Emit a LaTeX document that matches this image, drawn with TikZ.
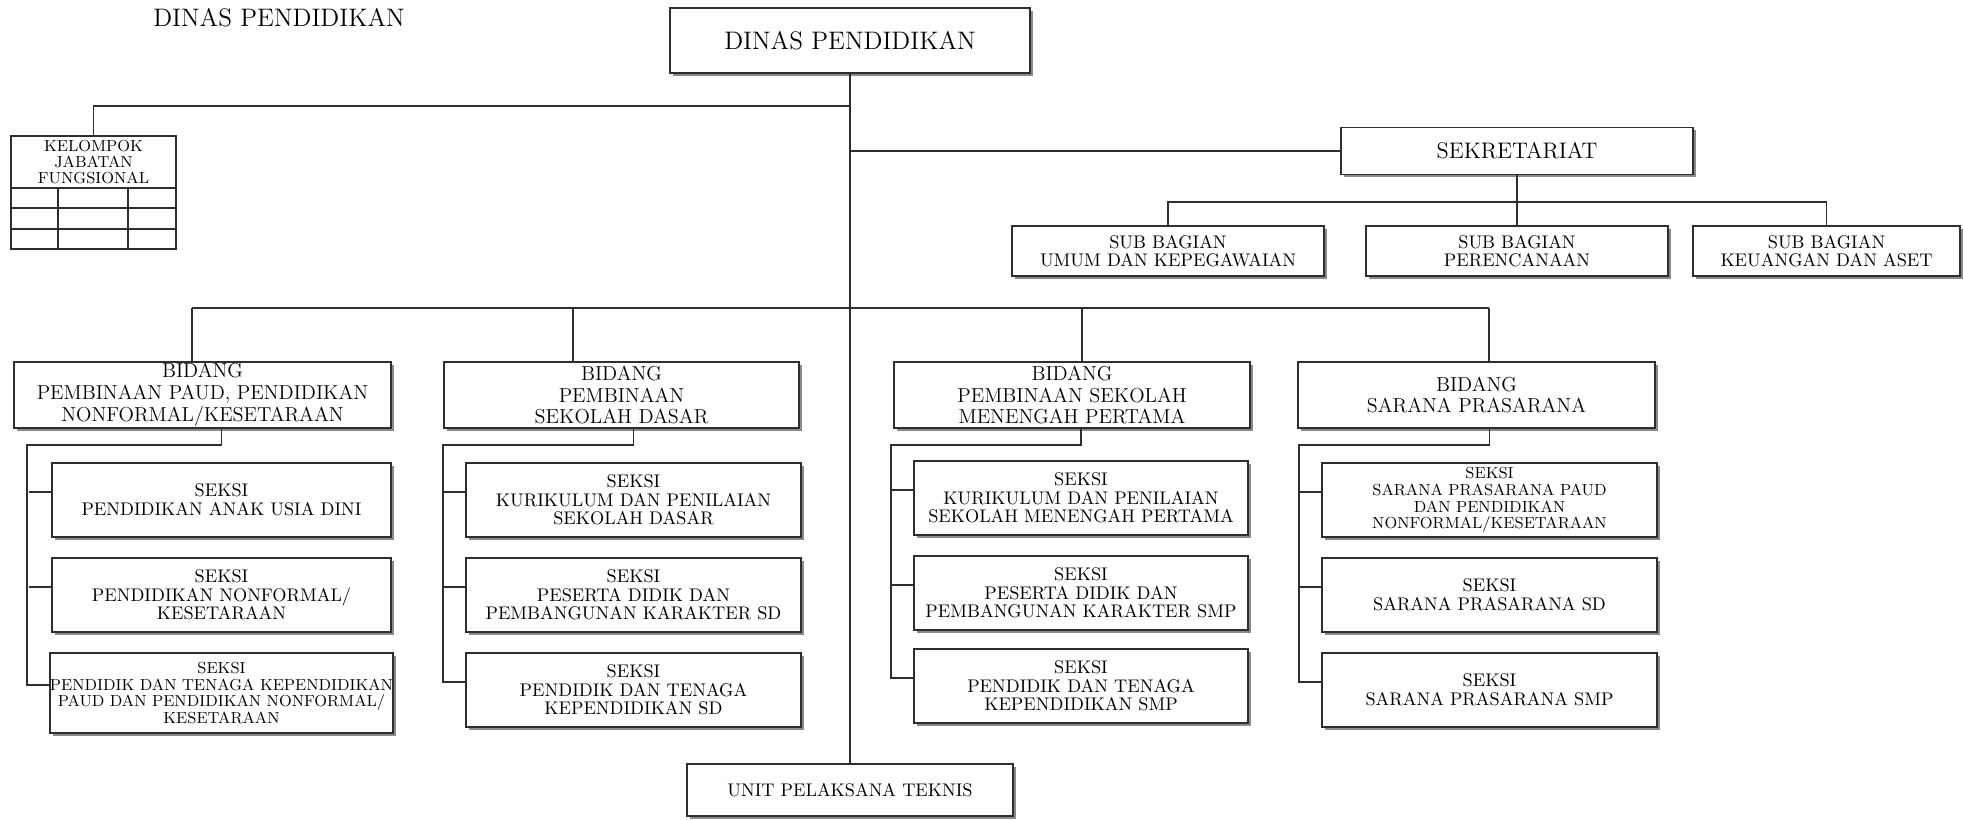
\documentclass[tikz,border=0pt]{standalone}
\usepackage{xcolor}
\usepackage{tikz}
\usetikzlibrary{positioning,calc,shadows}
\definecolor{linegray}{HTML}{2E2E2E}
\definecolor{shadowgray}{HTML}{8A8A8A}

% font sizes of the chart
\newcommand\txtmain{\fontsize{14.4}{16}\selectfont}
\newcommand\txtsek{\fontsize{12.8}{14}\selectfont}
\newcommand\txtsub{\fontsize{10.4}{10.2}\selectfont}
\newcommand\txtbidang{\fontsize{11.5}{12.4}\selectfont}
\newcommand\txtseksi{\fontsize{10.4}{10.6}\selectfont}
\newcommand\txtkecil{\fontsize{9.1}{9.6}\selectfont}
\newcommand\txtkjf{\fontsize{9.1}{9.3}\selectfont}

\tikzset{
  unit/.style={draw=linegray, line width=1pt, fill=white, align=center, inner sep=0pt,
    drop shadow={shadow xshift=1.7pt, shadow yshift=-1.7pt, fill=shadowgray, opacity=1}},
  link/.style={draw=linegray, line width=1pt},
  subbox/.style={unit, font=\txtsub, minimum height=1cm},
  bidangbox/.style={unit, font=\txtbidang, minimum height=1.32cm},
  seksibox/.style={unit, font=\txtseksi, minimum height=1.48cm}
}

\begin{document}
\begin{tikzpicture}[x=0.02cm, y=-0.02cm]
  \useasboundingbox (0,0) rectangle (1963,819);

  % Title
  \node[font=\txtmain] (judul) at (279,18) {DINAS PENDIDIKAN};

  % Head office and technical unit
  \node[unit, font=\txtmain, minimum width=7.2cm, minimum height=1.3cm] (dinas) at (850,40.5) {DINAS PENDIDIKAN};
  \node[unit, font=\txtsub, minimum width=6.52cm, minimum height=1.04cm] (upt) at (850,790) {UNIT PELAKSANA TEKNIS};

  % Kelompok jabatan fungsional (no shadow)
  \node[link, align=center, inner sep=0pt, font=\txtkjf, minimum width=3.3cm, minimum height=1.04cm] (kjf) at (93.5,162) {KELOMPOK\\JABATAN\\FUNGSIONAL};
  \draw[link] (11,188) rectangle (176,249);
  \foreach \y in {208,229} {
    \draw[link] (11,\y) -- (176,\y);
  }
  \foreach \x in {58,128} {
    \draw[link] (\x,188) -- (\x,249);
  }

  % Sekretariat
  \node[unit, font=\txtsek, minimum width=7.04cm, minimum height=0.94cm] (sek) at (1517,151) {SEKRETARIAT};
  \node[subbox, minimum width=6.24cm] (umum) at (1168,251) {SUB BAGIAN\\UMUM DAN KEPEGAWAIAN};
  \node[subbox, minimum width=6.04cm] (per) at (1517,251) {SUB BAGIAN\\PERENCANAAN};
  \node[subbox, minimum width=5.34cm] (keu) at (1826.5,251) {SUB BAGIAN\\KEUANGAN DAN ASET};

  % Bidang
  \node[bidangbox, minimum width=7.54cm] (bpa) at (202.5,395) {BIDANG\\PEMBINAAN PAUD, PENDIDIKAN\\NONFORMAL/KESETARAAN};
  \node[bidangbox, minimum width=7.1cm] (bsd) at (621.5,395) {BIDANG\\PEMBINAAN\\SEKOLAH DASAR};
  \node[bidangbox, minimum width=7.12cm] (bsmp) at (1072,395) {BIDANG\\PEMBINAAN SEKOLAH\\MENENGAH PERTAMA};
  \node[bidangbox, minimum width=7.14cm] (bsp) at (1476.5,395) {BIDANG\\SARANA PRASARANA};

  % Seksi PAUD
  \node[seksibox, minimum width=6.78cm] (pa1) at (221.5,500) {SEKSI\\PENDIDIKAN ANAK USIA DINI};
  \node[seksibox, minimum width=6.78cm] (pa2) at (221.5,595) {SEKSI\\PENDIDIKAN NONFORMAL/\\KESETARAAN};
  \node[seksibox, font=\txtkecil, minimum width=6.78cm, minimum height=1.6cm] (pa3) at (221.5,693) {SEKSI\\PENDIDIK DAN TENAGA KEPENDIDIKAN\\PAUD DAN PENDIDIKAN NONFORMAL/\\KESETARAAN};

  % Seksi SD
  \node[seksibox, minimum width=6.7cm] (sd1) at (633.5,500) {SEKSI\\KURIKULUM DAN PENILAIAN\\SEKOLAH DASAR};
  \node[seksibox, minimum width=6.7cm] (sd2) at (633.5,595) {SEKSI\\PESERTA DIDIK DAN\\PEMBANGUNAN KARAKTER SD};
  \node[seksibox, minimum width=6.7cm] (sd3) at (633.5,690) {SEKSI\\PENDIDIK DAN TENAGA\\KEPENDIDIKAN SD};

  % Seksi SMP
  \node[seksibox, minimum width=6.68cm] (smp1) at (1081,498) {SEKSI\\KURIKULUM DAN PENILAIAN\\SEKOLAH MENENGAH PERTAMA};
  \node[seksibox, minimum width=6.68cm] (smp2) at (1081,593) {SEKSI\\PESERTA DIDIK DAN\\PEMBANGUNAN KARAKTER SMP};
  \node[seksibox, minimum width=6.68cm] (smp3) at (1081,686) {SEKSI\\PENDIDIK DAN TENAGA\\KEPENDIDIKAN SMP};

  % Seksi sarana prasarana
  \node[seksibox, font=\txtkecil, minimum width=6.7cm] (sp1) at (1489.5,500) {SEKSI\\SARANA PRASARANA PAUD\\DAN PENDIDIKAN\\NONFORMAL/KESETARAAN};
  \node[seksibox, minimum width=6.7cm] (sp2) at (1489.5,595) {SEKSI\\SARANA PRASARANA SD};
  \node[seksibox, minimum width=6.7cm] (sp3) at (1489.5,690) {SEKSI\\SARANA PRASARANA SMP};

  % Trunk and side branches
  \draw[link] (dinas.south) -- (upt.north);
  \coordinate (jkj) at (850,106);
  \draw[link] (kjf.north) |- (jkj);
  \draw[link] (sek.west) -- (sek.west -| dinas.south);

  % Sub bagian lines
  \coordinate (sbg) at (1517,202);
  \draw[link] (sek.south) -- (per.north);
  \draw[link] (umum.north) |- (sbg) -| (keu.north);

  % Bidang lines
  \coordinate (tpa) at (192,308);
  \coordinate (tsd) at (573,308);
  \coordinate (tsmp) at (1082,308);
  \coordinate (tsp) at (1489,308);
  \draw[link] (tpa) -- (tsp);
  \foreach \t/\b in {tpa/bpa, tsd/bsd, tsmp/bsmp, tsp/bsp} {
    \draw[link] (\t) -- (\t |- \b.north);
  }

  % Seksi lines
  \foreach \b/\s in {bpa/pa, bsd/sd, bsmp/smp, bsp/sp} {
    \foreach \i in {1,2} {
      \draw[link] ([yshift=4.5pt]\s\i.west) -- ++(-22,0);
    }
    \draw[link] (\s1.north |- \b.south) -- (\s1.north |- 0,445) -| ([xshift=-0.44cm, yshift=4.5pt]\s3.west) -- ([yshift=4.5pt]\s3.west);
  }
\end{tikzpicture}
\end{document}
